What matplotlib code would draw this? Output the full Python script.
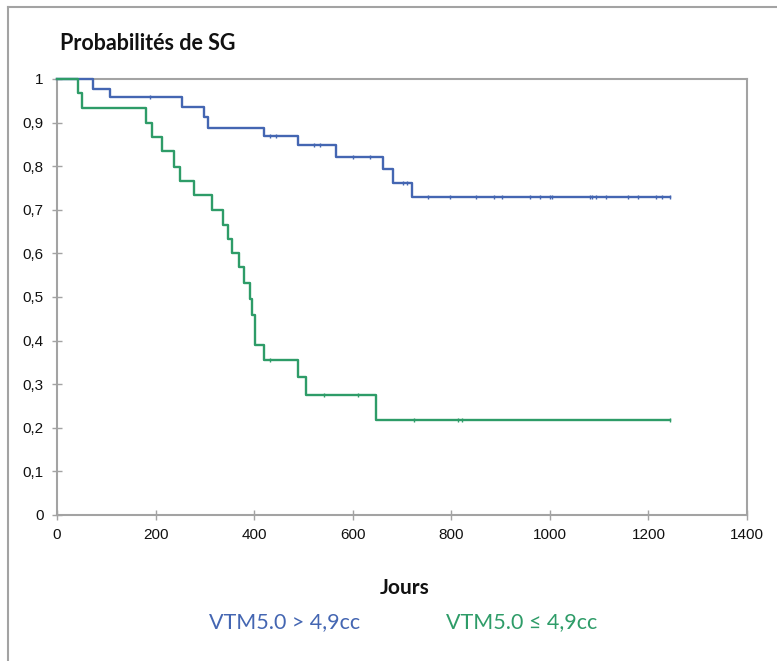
import numpy as np
import matplotlib
matplotlib.use("Agg")
import matplotlib.pyplot as plt
from matplotlib.lines import Line2D

# Kaplan-Meier steps (days, survival after the drop)
blue_days = [0, 73, 107, 254, 298, 306, 420, 489, 566, 661, 682, 720, 1243]
blue_surv = [1.0, 0.976, 0.958, 0.935, 0.912, 0.888, 0.869, 0.848, 0.820,
             0.794, 0.761, 0.729, 0.729]
blue_cens = [189, 432, 444, 521, 533, 600, 635, 702, 710, 753, 797, 850,
             886, 903, 959, 980, 1000, 1005, 1081, 1085, 1093, 1114, 1158,
             1178, 1215, 1227, 1243]

green_days = [0, 42, 51, 181, 193, 213, 237, 249, 278, 314, 337, 347, 355,
              369, 379, 391, 396, 402, 419, 488, 505, 647, 1243]
green_surv = [1.0, 0.967, 0.933, 0.900, 0.867, 0.835, 0.799, 0.767, 0.734,
              0.700, 0.665, 0.633, 0.600, 0.568, 0.532, 0.496, 0.459, 0.390,
              0.355, 0.317, 0.276, 0.219, 0.219]
green_cens = [432, 542, 611, 724, 813, 822, 1243]

x_ticks = [0, 200, 400, 600, 800, 1000, 1200, 1400]
y_ticks = [0, 0.1, 0.2, 0.3, 0.4, 0.5, 0.6, 0.7, 0.8, 0.9, 1.0]
y_labels = ["0", "0,1", "0,2", "0,3", "0,4", "0,5", "0,6", "0,7", "0,8",
            "0,9", "1"]

title = "Probabilités de SG"
xlabel = "Jours"
label_blue = "VTM5.0 > 4,9cc"
label_green = "VTM5.0 ≤ 4,9cc"

BLUE = "#4466b2"
GREEN = "#2e9c68"
GREY = "#a3a3a3"


def at(days, surv, t):
    # survival value of a step curve at time t
    i = np.searchsorted(days, t, side="right") - 1
    return np.asarray(surv)[i]


fig = plt.figure(figsize=(7.77, 6.61), dpi=100)
ax = fig.add_axes([57 / 777, 1 - 515 / 661, 690 / 777, 436 / 661])

ax.step(blue_days, blue_surv, where="post", color=BLUE, lw=1.7, zorder=4,
        clip_on=False)
ax.step(green_days, green_surv, where="post", color=GREEN, lw=1.7, zorder=5,
        clip_on=False)
ax.plot(blue_cens, at(blue_days, blue_surv, blue_cens), ls="none",
        marker="|", ms=3, mew=1, color=BLUE, zorder=4)
ax.plot(green_cens, at(green_days, green_surv, green_cens), ls="none",
        marker="|", ms=3, mew=1, color=GREEN, zorder=5)

ax.set_xlim(0, 1400)
ax.set_ylim(0, 1)
ax.set_xticks(x_ticks)
ax.set_yticks(y_ticks)
ax.set_yticklabels(y_labels)
for s in ax.spines.values():
    s.set_color(GREY)
    s.set_linewidth(1.5)
ax.tick_params(direction="inout", length=7, width=1, color=GREY,
               labelsize=11, labelcolor="#111111", pad=6)
for lab in ax.get_xticklabels() + ax.get_yticklabels():
    lab.set_family("Liberation Sans")

fig.text(60 / 777, 1 - 43 / 661, title, fontsize=15.5, fontweight="bold",
         family="Lato", va="center", ha="left", color="#111111")
fig.text(405 / 777, 1 - 588 / 661, xlabel, fontsize=15, fontweight="bold",
         family="Lato", va="center", ha="center", color="#111111")
fig.text(285 / 777, 1 - 622 / 661, label_blue, fontsize=15.5, color=BLUE,
         family=["Lato", "DejaVu Sans"], va="center", ha="center")
fig.text(522 / 777, 1 - 622 / 661, label_green, fontsize=15.5, color=GREEN,
         family=["Lato", "DejaVu Sans"], va="center", ha="center")

# outer frame (left and top edges only)
fig.add_artist(Line2D([8 / 777, 8 / 777], [0, 1 - 7 / 661], color=GREY,
                      lw=1.5))
fig.add_artist(Line2D([8 / 777, 1], [1 - 7 / 661, 1 - 7 / 661], color=GREY,
                      lw=1.5))

fig.savefig("out.png", dpi=100)
